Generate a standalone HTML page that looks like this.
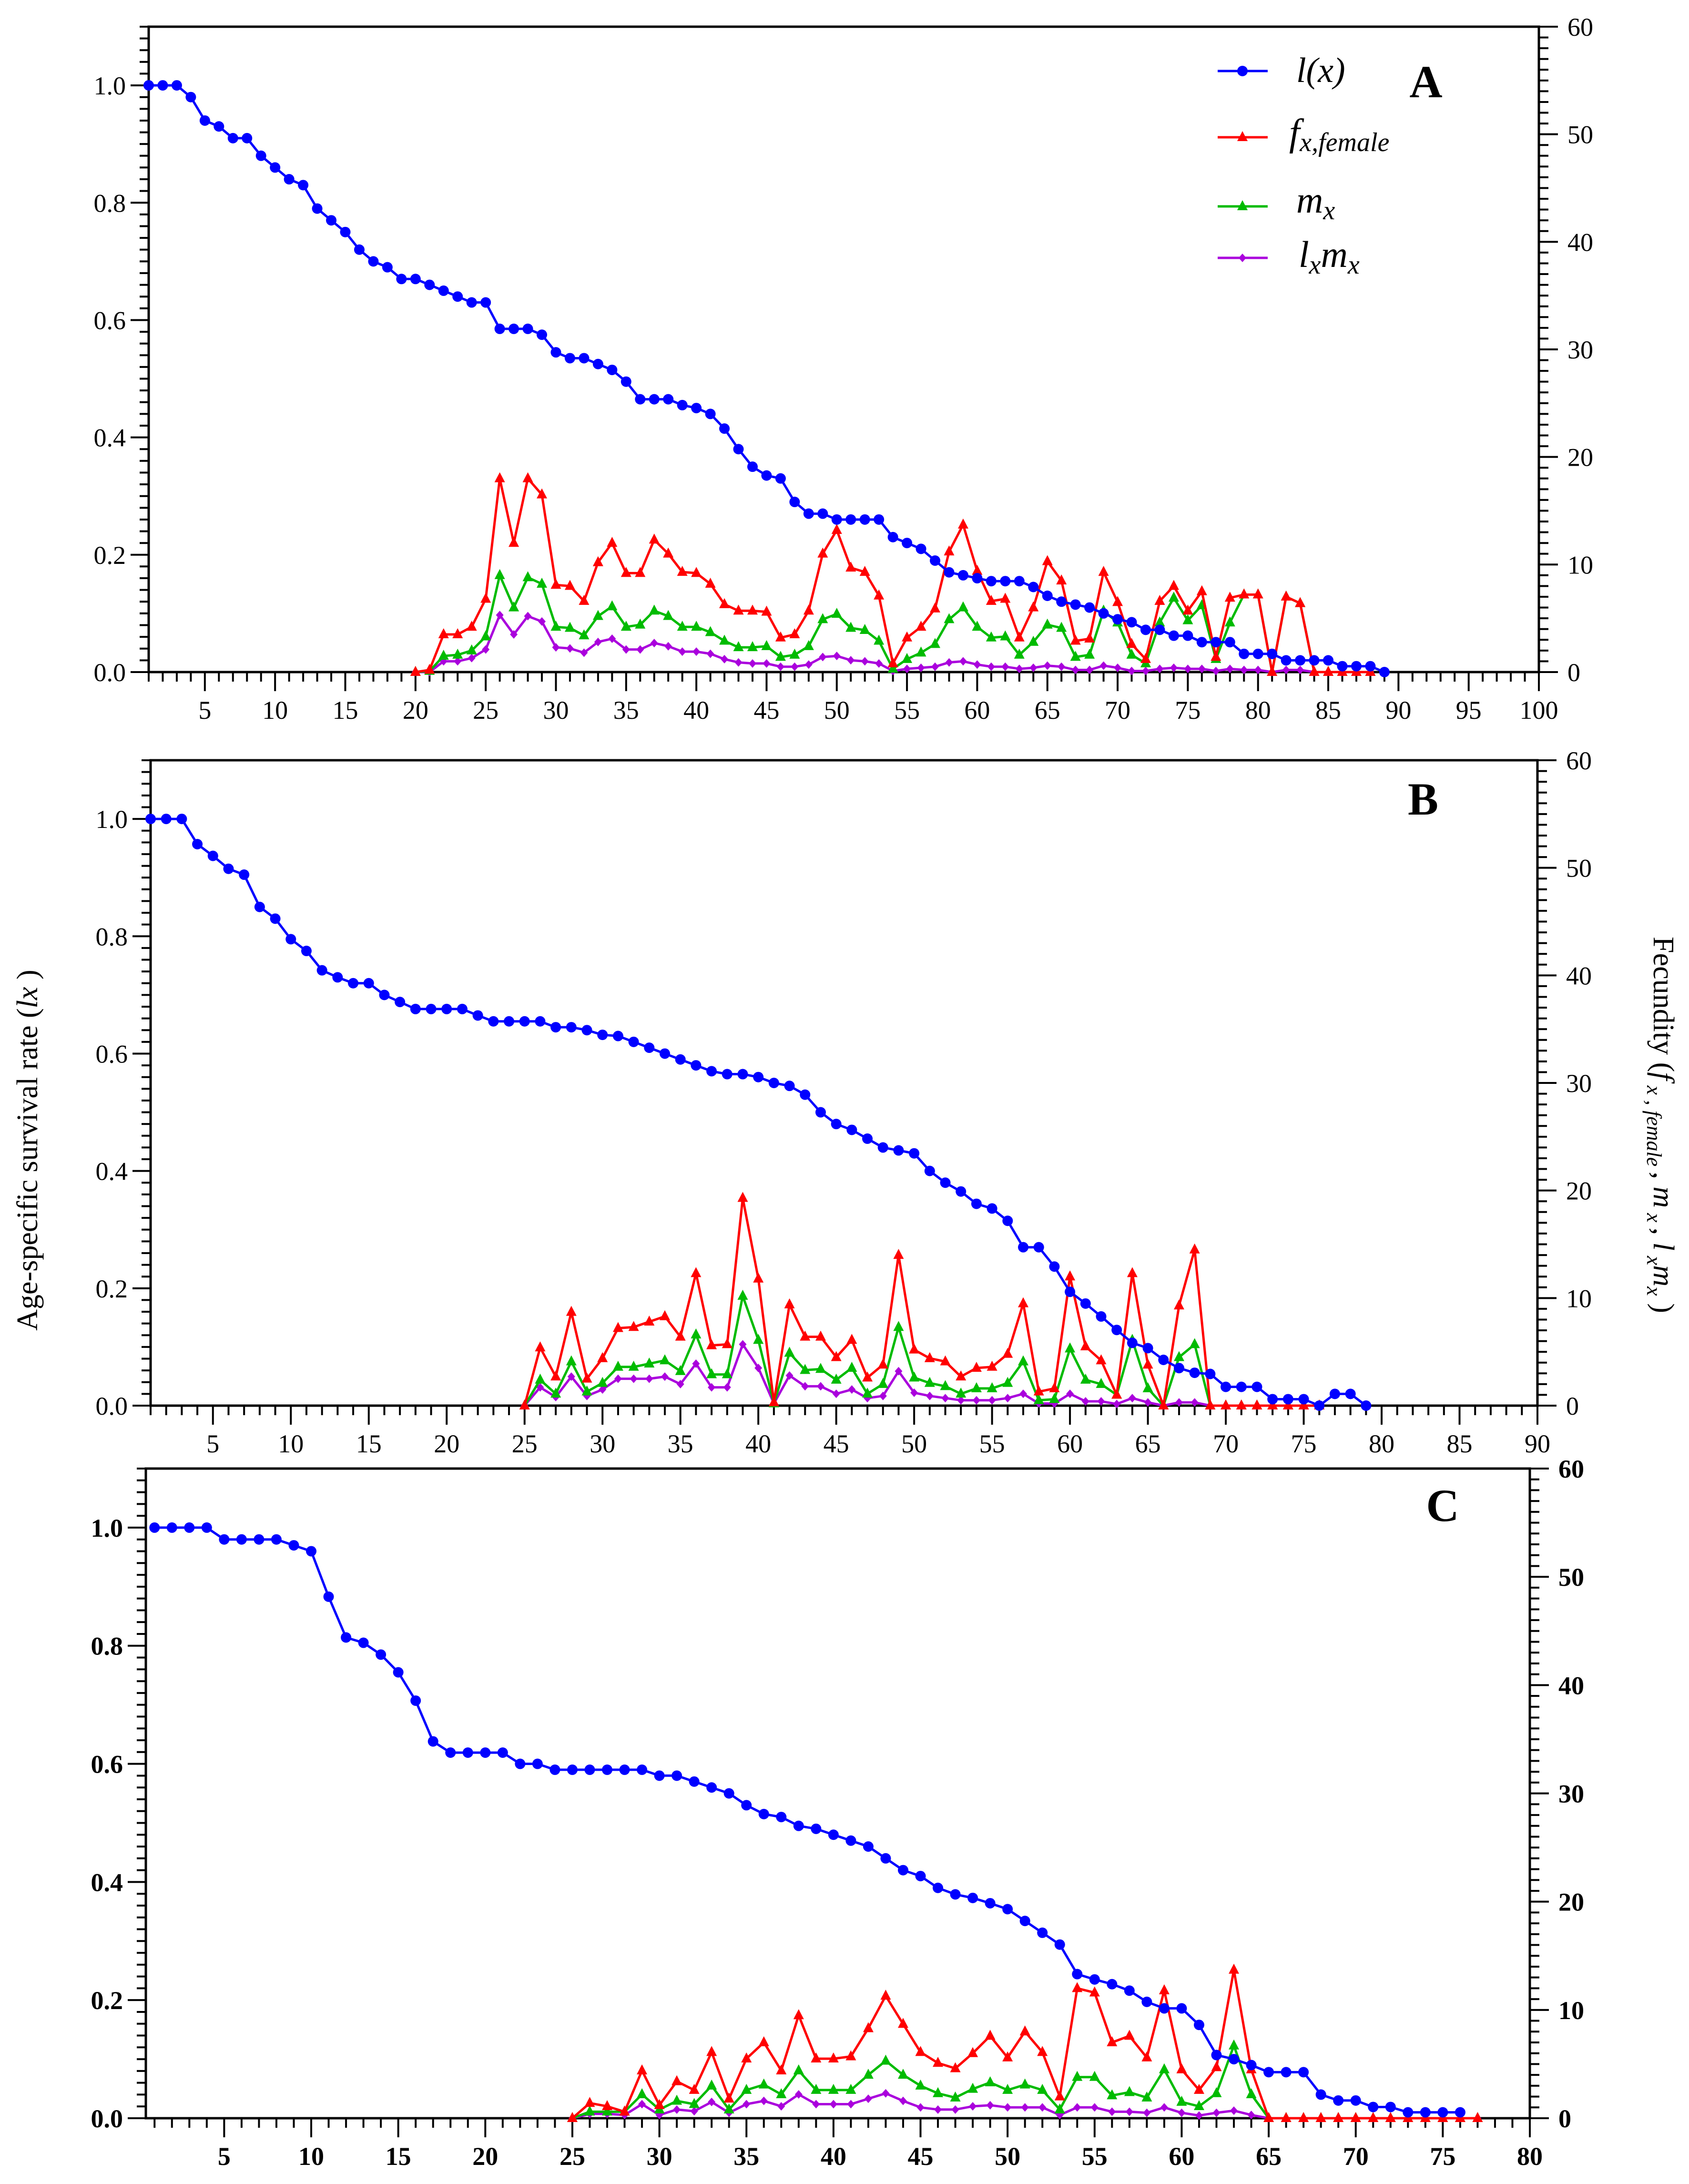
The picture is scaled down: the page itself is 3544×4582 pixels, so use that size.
<!DOCTYPE html>
<html><head><meta charset="utf-8"><style>
html,body{margin:0;padding:0;background:#fff;}
svg{display:block;font-family:"Liberation Serif",serif;}
</style></head><body>
<svg id="chart" xmlns="http://www.w3.org/2000/svg" width="3544" height="4582" viewBox="0 0 3544 4582">
<rect width="3544" height="4582" fill="#fff"/>
<g id="root"></g>
<text transform="translate(78,2413) rotate(-90)" text-anchor="middle" font-size="62">Age-specific survival rate (<tspan font-style="italic">lx</tspan> )</text>
<text transform="translate(3470,2360) rotate(90)" text-anchor="middle" font-size="62">Fecundity (<tspan font-style="italic">f</tspan><tspan font-size="44" dy="14" font-style="italic"> x , female </tspan><tspan dy="-14">, </tspan><tspan font-style="italic">m</tspan><tspan font-size="44" dy="14" font-style="italic"> x </tspan><tspan dy="-14">, </tspan><tspan font-style="italic">l</tspan><tspan font-size="44" dy="14" font-style="italic"> x</tspan><tspan dy="-14" font-style="italic">m</tspan><tspan font-size="44" dy="14" font-style="italic">x</tspan><tspan dy="-14"> )</tspan></text>
</svg>
<script>
// ---------- Panel A data ----------
const aLxStart = 1;
const aLx = [1,1,1,0.98,0.94,0.93,0.91,0.91,0.88,0.86,
0.84,0.83,0.79,0.77,0.75,0.72,0.70,0.69,0.67,0.67,
0.66,0.65,0.64,0.63,0.63,0.585,0.585,0.585,0.575,0.545,
0.535,0.535,0.525,0.515,0.495,0.465,0.465,0.465,0.455,0.45,
0.44,0.415,0.38,0.35,0.335,0.33,0.29,0.27,0.27,0.26,
0.26,0.26,0.26,0.23,0.22,0.21,0.19,0.17,0.165,0.16,
0.155,0.155,0.155,0.145,0.13,0.12,0.115,0.11,0.10,0.09,
0.085,0.072,0.072,0.062,0.062,0.051,0.051,0.051,0.031,0.031,
0.031,0.02,0.02,0.02,0.02,0.01,0.01,0.01,0];
const aFecStart = 20;
const aFx = [0,0.2,3.5,3.5,4.2,6.8,18,12,18,16.5,
8.1,8,6.6,10.2,12,9.2,9.2,12.3,11,9.3,
9.2,8.2,6.3,5.7,5.7,5.6,3.2,3.5,5.7,11,
13.2,9.7,9.3,7.1,0.8,3.2,4.2,5.9,11.2,13.7,
9.4,6.6,6.8,3.2,6,10.3,8.5,2.9,3.1,9.3,
6.5,2.6,1.2,6.6,8.0,5.7,7.5,1.4,6.9,7.2,
7.2,0,7.0,6.4,0,0,0,0,0];
const aMx = [0,0.1,1.5,1.6,2,3.3,9,6,8.8,8.2,
4.2,4.1,3.4,5.2,6.1,4.2,4.4,5.7,5.2,4.2,
4.2,3.7,2.9,2.3,2.3,2.4,1.4,1.6,2.4,4.9,
5.4,4.1,3.9,2.9,0.3,1.2,1.8,2.6,4.9,6,
4.2,3.2,3.3,1.6,2.8,4.4,4.1,1.4,1.6,5.7,
4.6,1.6,0.8,4.6,6.9,4.8,6.2,1.2,4.6,7.2,
7.2,0,7.0,6.4,0,0,0,0,0];
const aLm = [0,0,1.0,1.0,1.3,2.1,5.3,3.5,5.2,4.7,
2.3,2.2,1.8,2.8,3.1,2.1,2.1,2.7,2.4,1.9,
1.9,1.7,1.2,0.9,0.8,0.8,0.5,0.5,0.7,1.4,
1.5,1.1,1,0.8,0.1,0.3,0.4,0.5,0.9,1,
0.7,0.5,0.5,0.3,0.4,0.6,0.5,0.2,0.2,0.6,
0.4,0.1,0.1,0.3,0.4,0.3,0.3,0.1,0.3,0.2,
0.2,0,0.2,0.2,0,0,0,0,0];
// ---------- Panel B data ----------
const bLxStart = 1;
const bLx = [1,1,1,0.957,0.937,0.915,0.905,0.85,0.83,0.795,
0.775,0.742,0.73,0.72,0.72,0.7,0.688,0.676,0.676,0.676,
0.676,0.665,0.655,0.655,0.655,0.655,0.645,0.645,0.64,0.632,
0.63,0.62,0.61,0.6,0.59,0.58,0.57,0.565,0.565,0.56,
0.55,0.545,0.53,0.5,0.48,0.47,0.455,0.44,0.435,0.43,
0.40,0.38,0.365,0.344,0.336,0.315,0.27,0.27,0.237,0.194,
0.174,0.152,0.129,0.107,0.098,0.078,0.064,0.056,0.054,0.032,
0.032,0.032,0.011,0.011,0.011,0,0.02,0.02,0];
const bFecStart = 25;
const bFx = [0,5.4,2.7,8.7,2.5,4.4,7.2,7.3,7.8,8.3,
6.4,12.3,5.6,5.7,19.3,11.8,0.3,9.4,6.4,6.4,
4.5,6.1,2.6,3.8,14,5.2,4.4,4.1,2.7,3.5,
3.6,4.8,9.5,1.3,1.6,12,5.5,4.2,1,12.3,
3.8,0,9.3,14.5,0,0,0,0,0,0,0,0];
const bMx = [0,2.4,1.1,4.1,1.3,2.1,3.6,3.6,3.9,4.2,
3.2,6.6,2.9,2.9,10.2,6.1,0.2,4.9,3.3,3.4,
2.4,3.5,1.1,2,7.3,2.6,2.1,1.8,1.1,1.6,
1.6,2.1,4.1,0.5,0.6,5.3,2.4,2,1,6.1,
1.6,0,4.5,5.7,0,0,0,0,0,0,0,0];
const bLm = [0,1.7,0.8,2.7,0.9,1.5,2.5,2.5,2.5,2.7,
2,3.9,1.7,1.7,5.7,3.5,0.2,2.8,1.8,1.8,
1.1,1.5,0.7,0.9,3.2,1.2,0.9,0.7,0.5,0.5,
0.5,0.7,1.1,0.2,0.2,1.1,0.4,0.4,0.15,0.7,
0.3,0,0.3,0.3,0,0,0,0,0,0,0,0];
// ---------- Panel C data ----------
const cLxStart = 1;
const cLx = [1,1,1,1,0.98,0.98,0.98,0.98,0.97,0.96,
0.883,0.814,0.805,0.785,0.755,0.707,0.638,0.619,0.619,0.619,
0.619,0.6,0.6,0.59,0.59,0.59,0.59,0.59,0.59,0.58,
0.58,0.57,0.56,0.55,0.53,0.515,0.51,0.495,0.49,0.48,
0.47,0.46,0.44,0.42,0.41,0.39,0.379,0.373,0.364,0.354,
0.334,0.314,0.294,0.244,0.235,0.227,0.216,0.197,0.186,0.186,
0.158,0.107,0.1,0.09,0.078,0.078,0.078,0.04,0.03,0.03,
0.019,0.019,0.01,0.01,0.01,0.01];
const cFecStart = 25;
const cFx = [0,1.4,1.1,0.6,4.4,1.2,3.4,2.6,6.1,1.8,
5.5,7.0,4.4,9.5,5.5,5.5,5.7,8.3,11.3,8.7,
6.1,5.1,4.6,6.0,7.6,5.6,8.0,6.1,2.0,12.0,
11.6,7.0,7.6,5.6,11.8,4.5,2.6,4.7,13.7,4.5,
0,0,0,0,0,0,0,0,0,0,0,0,0];
const cMx = [0,0.6,0.6,0.6,2.2,0.8,1.6,1.3,3.0,0.8,
2.6,3.1,2.2,4.4,2.6,2.6,2.6,4.0,5.3,4.0,
3.0,2.3,1.9,2.7,3.3,2.6,3.1,2.6,0.8,3.8,
3.8,2.1,2.4,1.9,4.5,1.5,1.1,2.3,6.7,2.2,
0,0,0,0,0,0,0,0,0,0,0,0,0];
const cLm = [0,0.4,0.4,0.3,1.3,0.3,0.8,0.65,1.5,0.5,
1.3,1.6,1.1,2.2,1.3,1.3,1.3,1.8,2.3,1.6,
1.0,0.8,0.8,1.1,1.2,1.0,1.0,1.0,0.3,1.0,
1.0,0.6,0.6,0.5,1.0,0.5,0.25,0.5,0.7,0.3,
0,0,0,0,0,0,0,0,0,0,0,0,0];
const leftTicks = ["0.0","0.2","0.4","0.6","0.8","1.0"];
const rightTicks = ["0","10","20","30","40","50","60"];

const NS = "http://www.w3.org/2000/svg";
const root = document.getElementById('root');
function mk(tag, attrs, parent){
  const e = document.createElementNS(NS, tag);
  for (const k in attrs) e.setAttribute(k, attrs[k]);
  (parent||root).appendChild(e);
  return e;
}
const BLUE="#0000ff", RED="#ff0000", GREEN="#00bb00", PURPLE="#aa00dd";

function marker(g, kind, x, y, color){
  let m;
  if (kind==='circle'){ m = mk('circle',{cx:x,cy:y,r:11,fill:color},g); }
  else if (kind==='tri'){ m = mk('polygon',{points:`${x},${y-13} ${x-11},${y+8} ${x+11},${y+8}`,fill:color},g); }
  else { m = mk('polygon',{points:`${x},${y-9} ${x-8},${y} ${x},${y+9} ${x+8},${y}`,fill:color},g); }
  return m;
}

function panel(cfg){
  const {id,x0,x1,d0,d1,yTop,yBot,xMax,bold,letter,lx,lxStart,fx,mx,lm,fecStart,legend,letterX,letterY} = cfg;
  const g = mk('g',{});
  
  
  const sx = v => x0 + (v-d0)*(x1-x0)/(d1-d0);
  const syL = v => yBot - v*(yBot-yTop)/1.1;
  const syR = v => yBot - v*(yBot-yTop)/60;
  const fw = bold ? 'bold' : 'normal';
  const frame = mk('path',{d:`M${x0},${yBot} L${x0},${yTop} L${x1},${yTop} L${x1},${yBot} Z`,fill:'none',stroke:'#000','stroke-width':5},g);
  
  
  const lt = mk('g',{stroke:'#000','stroke-width':4},g);
  
  
  for (let i=0;i<=55;i++){
    const v=i*0.02, y=syL(v), major=(i%10===0);
    mk('line',{x1:x0,x2:x0-(major?38:19),y1:y,y2:y},lt);
  }
  leftTicks.forEach((t,i)=>{
    const tx = mk('text',{x:x0-48,y:syL(i*0.2)+19,'text-anchor':'end','font-size':54,'font-weight':fw,stroke:'none'},g);
    
    
    tx.textContent=t;
  });
  const rt = mk('g',{stroke:'#000','stroke-width':4},g);
  
  
  for (let i=0;i<=60;i++){
    const y=syR(i), major=(i%10===0);
    mk('line',{x1:x1,x2:x1+(major?40:20),y1:y,y2:y},rt);
  }
  rightTicks.forEach((t,i)=>{
    const tx = mk('text',{x:x1+60,y:syR(i*10)+19,'text-anchor':'start','font-size':54,'font-weight':fw},g);
    
    
    tx.textContent=t;
  });
  const xt = mk('g',{stroke:'#000','stroke-width':4},g);
  
  
  for (let v=Math.ceil(d0); v<=xMax; v++){
    const x=sx(v), major=(v%5===0);
    mk('line',{x1:x,x2:x,y1:yBot,y2:yBot+(major?40:20)},xt);
    if (major){
      const tx = mk('text',{x:x,y:yBot+98,'text-anchor':'middle','font-size':54,'font-weight':fw,stroke:'none'},g);
      
      
      tx.textContent=String(v);
    }
  }
  function series(name, vals, start, sy, color, kind){
    const sg = mk('g',{},g);
    
    
    const pts = vals.map((v,i)=>`${sx(start+i).toFixed(1)},${sy(v).toFixed(1)}`).join(' ');
    mk('polyline',{points:pts,fill:'none',stroke:color,'stroke-width':5,'stroke-linejoin':'round'},sg);
    vals.forEach((v,i)=>{
      const m = marker(sg, kind, sx(start+i), sy(v), color);
      
      
    });
  }
  series('lxmx', lm, fecStart, syR, PURPLE, 'diamond');
  series('mx', mx, fecStart, syR, GREEN, 'tri');
  series('fx-female', fx, fecStart, syR, RED, 'tri');
  series('lx', lx, lxStart, syL, BLUE, 'circle');
  const L = mk('text',{x:letterX,y:letterY,'text-anchor':'middle','font-size':96,'font-weight':'bold'},g);
  
  
  L.textContent=letter;
  if (legend){
    const lg = mk('g',{},g);
    
    
    const rows=[[149,BLUE,'circle'],[288,RED,'tri'],[433,GREEN,'tri'],[541,PURPLE,'diamond']];
    rows.forEach(r=>{
      const ln = mk('line',{x1:2555,x2:2660,y1:r[0],y2:r[0],stroke:r[1],'stroke-width':5},lg);
      
      
      marker(lg, r[2], 2607, r[0], r[1]);
    });
    const t1 = mk('text',{x:2720,y:172,'font-size':74,'font-style':'italic'},lg);
    
    
    t1.textContent='l(x)';
    const t2 = mk('text',{x:2705,y:305,'font-size':80,'font-style':'italic'},lg);
    
    
    t2.innerHTML='f<tspan font-size="56" dy="12">x,female</tspan>';
    const t3 = mk('text',{x:2720,y:446,'font-size':78,'font-style':'italic'},lg);
    
    
    t3.innerHTML='m<tspan font-size="56" dy="14">x</tspan>';
    const t4 = mk('text',{x:2725,y:560,'font-size':78,'font-style':'italic'},lg);
    
    
    t4.innerHTML='l<tspan font-size="56" dy="14">x</tspan><tspan dy="-14">m</tspan><tspan font-size="56" dy="14">x</tspan>';
  }
}

panel({id:'a',x0:312,x1:3229,d0:1,d1:100,xMax:100,yTop:56,yBot:1410,bold:false,letter:'A',
  lx:aLx,lxStart:aLxStart,fx:aFx,mx:aMx,lm:aLm,fecStart:aFecStart,legend:true,letterX:2992,letterY:204});
panel({id:'b',x0:316,x1:3226,d0:1,d1:90,xMax:90,yTop:1595,yBot:2949,bold:false,letter:'B',
  lx:bLx,lxStart:bLxStart,fx:bFx,mx:bMx,lm:bLm,fecStart:bFecStart,legend:false,letterX:2986,letterY:1709});
panel({id:'c',x0:306,x1:3210,d0:0.5,d1:80,xMax:80,yTop:3081,yBot:4444,bold:true,letter:'C',
  lx:cLx,lxStart:cLxStart,fx:cFx,mx:cMx,lm:cLm,fecStart:cFecStart,legend:false,letterX:3027,letterY:3191});
</script>
</body></html>
